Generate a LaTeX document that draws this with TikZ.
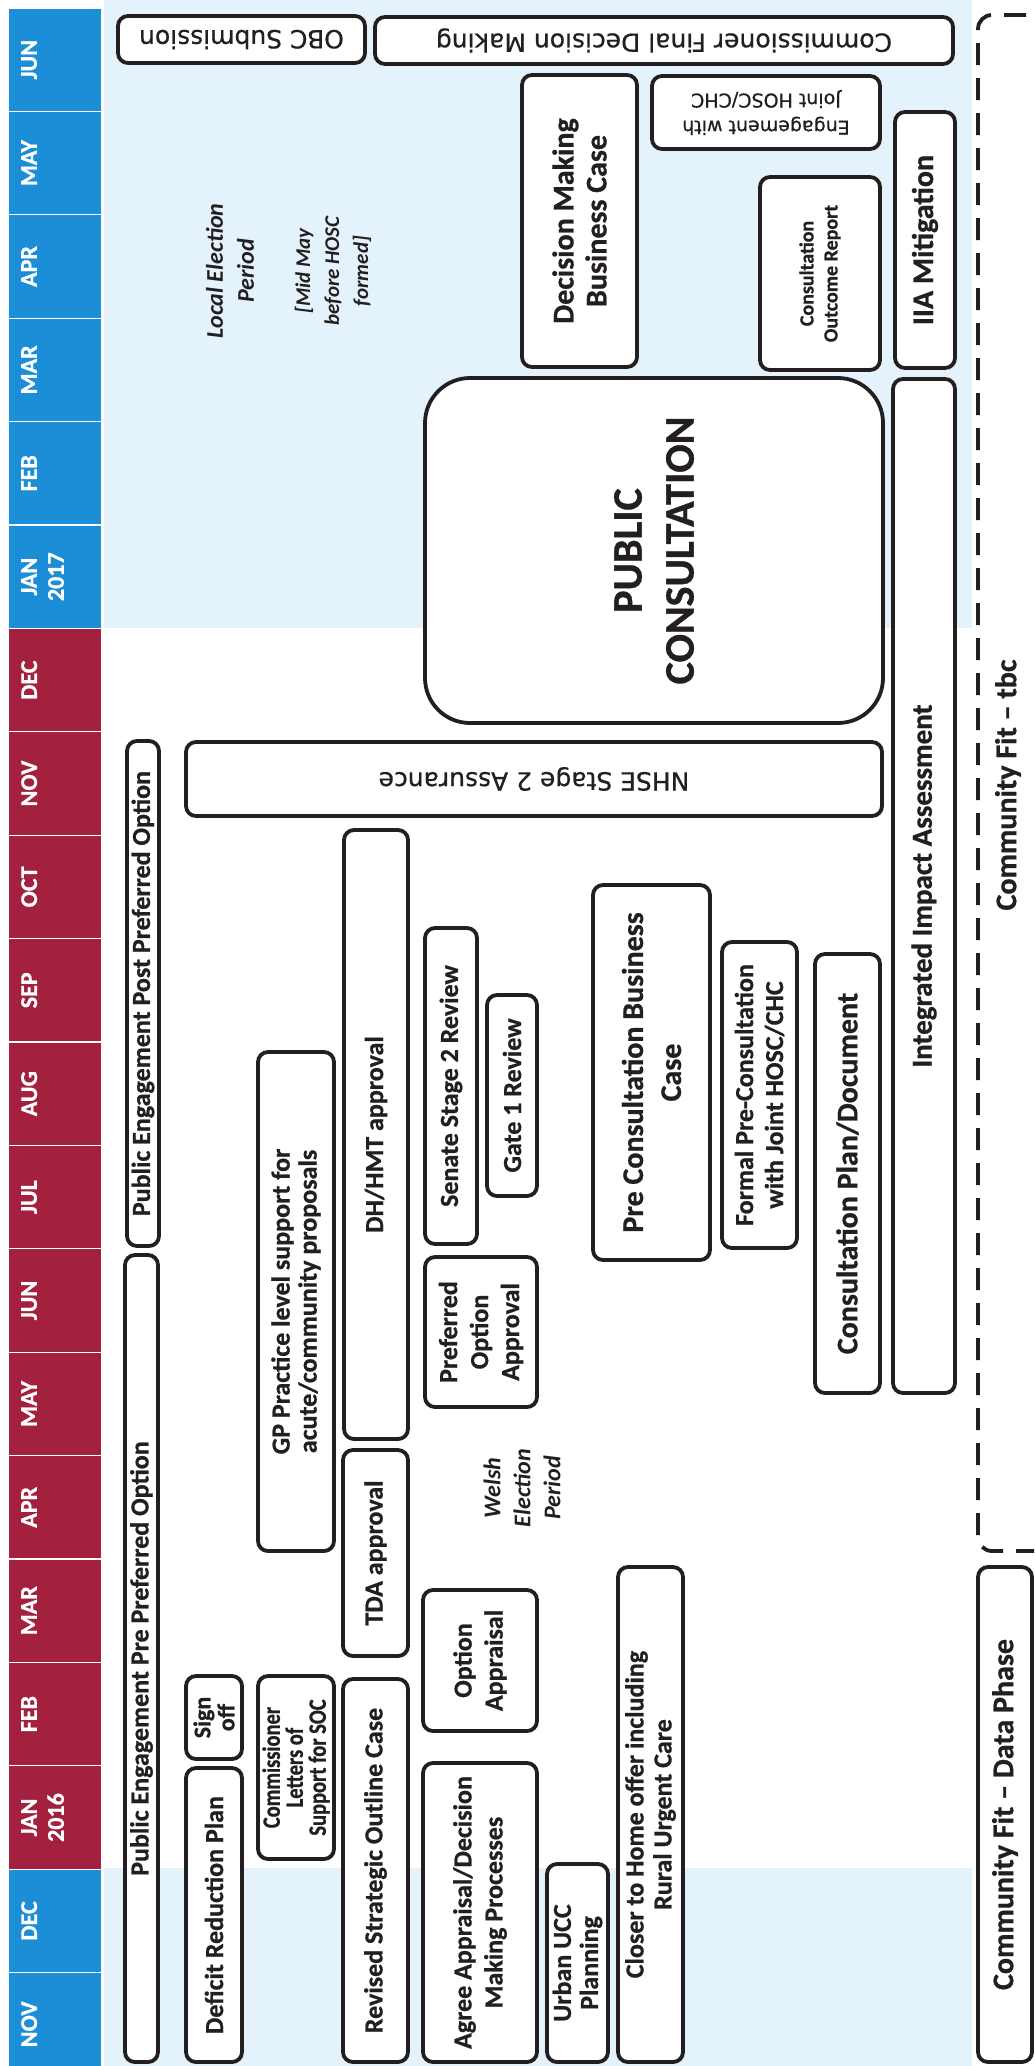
\documentclass[tikz,border=0pt]{standalone}
\usepackage{fontspec}
\setmainfont{Carlito}[BoldFeatures={FakeBold=0.8}]
\newfontfamily\dejavu{DejaVu Sans}[FakeBold=0.6]
\newfontfamily\cond{Carlito}[FakeStretch=0.82, BoldFeatures={FakeBold=0.8}]
\usetikzlibrary{fit}
\definecolor{ink}{HTML}{231F20}
\definecolor{hblue}{HTML}{1C8ED8}
\definecolor{hred}{HTML}{A3213F}
\definecolor{pale}{HTML}{E4F3FB}
\newcommand\fs[2]{\fontsize{#1}{#2}\selectfont}
\begin{document}
\begin{tikzpicture}[x=1pt,y=-1pt,
  box/.style={draw=ink, line width=3.8pt, fill=white, rounded corners=10pt, inner sep=0pt, outer sep=0pt},
  bigbox/.style={box, rounded corners=45pt},
  dashbox/.style={draw=ink, line width=3.8pt, dash pattern=on 22pt off 13pt, rounded corners=14pt, inner sep=0pt},
  cell/.style={draw=white, line width=1.2pt, inner sep=0pt, outer sep=0pt},
  month/.style={rotate=90, align=center, inner sep=0pt, anchor=north, text=white, font=\bfseries\fs{24}{27}},
  vt/.style={rotate=90, align=center, inner sep=0pt, text=ink, font=\bfseries\fs{26}{30}},
  ut/.style={rotate=180, align=center, inner sep=0pt, text=ink, font=\dejavu\fs{25}{28}},
  it/.style={rotate=90, align=center, inner sep=0pt, text=ink, font=\bfseries\itshape\fs{24}{31}}]
\useasboundingbox (0,0) rectangle (1034,2066);
\clip (0,0) rectangle (1034,2066);
\fill[white] (0,0) rectangle (1034,2066);
% pale background bands
\fill[pale] (104,0) rectangle (972,628);
\fill[pale] (104,1868) rectangle (972,2066);
% month header
\foreach \k/\lab/\col in {0/JUN/hblue,1/MAY/hblue,2/APR/hblue,3/MAR/hblue,4/FEB/hblue,5/{JAN\\2017}/hblue,6/DEC/hred,7/NOV/hred,8/OCT/hred,9/SEP/hred,10/AUG/hred,11/JUL/hred,12/JUN/hred,13/MAY/hred,14/APR/hred,15/MAR/hred,16/FEB/hred,17/{JAN\\2016}/hred,18/DEC/hblue,19/NOV/hblue}{
  \pgfmathsetmacro\ya{8+103.4*\k}
  \pgfmathsetmacro\yb{\ya+103.4}
  \pgfmathsetmacro\yc{\ya+51.7}
  \node[cell, fill=\col, fit={(8,\ya) (102,\yb)}] (m\k) {};
  \node[month] (ml\k) at (21,\yc) {\lab};
}
% dashed community fit region
\node[dashbox, fit={(978,15) (1075,1551)}] (cf) {};
\node[vt, font=\bfseries\fs{30}{34}] (cf-t) at (1008,785) {Community Fit -- tbc};
% top row (upside down)
\node[box, fit={(118,16) (365,63)}] (obc) {};
\node[ut] (obc-t) at (obc.center) {OBC Submission};
\node[box, fit={(375,17) (953,64)}] (cfdm) {};
\node[ut] (cfdm-t) at (cfdm.center) {Commissioner Final Decision Making};
\node[box, fit={(652,76) (880,149)}] (eng) {};
\node[ut, font=\dejavu\fs{19}{27}] (eng-t) at (eng.center) {Engagement with\\Joint HOSC/CHC};
\node[box, fit={(186,742) (882,816)}] (nhse) {};
\node[ut] (nhse-t) at (nhse.center) {NHSE Stage 2 Assurance};
% 2017 boxes
\node[box, fit={(522,75) (637,367)}] (dmbc) {};
\node[vt, font=\bfseries\fs{30}{33}] (dmbc-t) at (dmbc.center) {Decision Making\\Business Case};
\node[box, fit={(760,177) (880,370)}] (cor) {};
\node[vt, font=\bfseries\fs{20}{24}] (cor-t) at (cor.center) {Consultation\\Outcome Report};
\node[box, fit={(895,112) (955,368)}] (iiam) {};
\node[vt, font=\bfseries\fs{30}{34}] (iiam-t) at (iiam.center) {IIA Mitigation};
\node[bigbox, fit={(425,378) (883,723)}] (pc) {};
\node[vt, font=\bfseries\fs{42}{52}] (pc-t) at (pc.center) {PUBLIC\\CONSULTATION};
\node[box, fit={(893,379) (955,1393)}] (iia) {};
\node[vt, font=\bfseries\fs{29}{34}] (iia-t) at (iia.center) {Integrated Impact Assessment};
\node[it] (local) at (230,271) {Local Election\\Period};
\node[it, font=\bfseries\itshape\fs{21}{29}] (midmay) at (333,271) {[Mid May\\before HOSC\\formed]};
% 2016 boxes
\node[box, fit={(127,741) (159,1246)}] (pepost) {};
\node[vt] (pepost-t) at (pepost.center) {Public Engagement Post Preferred Option};
\node[box, fit={(125,1255) (158,2062)}] (pepre) {};
\node[vt] (pepre-t) at (pepre.center) {Public Engagement Pre Preferred Option};
\node[box, fit={(186,1768) (242,2062)}] (drp) {};
\node[vt] (drp-t) at (drp.center) {Deficit Reduction Plan};
\node[box, fit={(186,1676) (242,1759)}] (sign) {};
\node[vt, font=\bfseries\fs{24}{24}] (sign-t) at (sign.center) {Sign\\off};
\node[box, fit={(258,1052) (334,1551)}] (gp) {};
\node[vt, font=\bfseries\fs{26}{27}] (gp-t) at (gp.center) {GP Practice level support for\\acute/community proposals};
\node[box, fit={(258,1676) (334,1859)}] (cls) {};
\node[vt, font=\cond\bfseries\fs{25}{23}] (cls-t) at (cls.center) {Commissioner\\Letters of\\Support for SOC};
\node[box, fit={(344,830) (408,1439)}] (dh) {};
\node[vt] (dh-t) at (dh.center) {DH/HMT approval};
\node[box, fit={(343,1450) (408,1656)}] (tda) {};
\node[vt] (tda-t) at (tda.center) {TDA approval};
\node[box, fit={(343,1679) (408,2062)}] (rsoc) {};
\node[vt] (rsoc-t) at (rsoc.center) {Revised Strategic Outline Case};
\node[box, fit={(425,928) (477,1244)}] (sen) {};
\node[vt] (sen-t) at (sen.center) {Senate Stage 2 Review};
\node[box, fit={(487,995) (537,1196)}] (gate) {};
\node[vt] (gate-t) at (gate.center) {Gate 1 Review};
\node[box, fit={(425,1257) (537,1407)}] (poa) {};
\node[vt, font=\bfseries\fs{26}{31}] (poa-t) at (poa.center) {Preferred\\Option\\Approval};
\node[box, fit={(423,1590) (537,1731)}] (oa) {};
\node[vt, font=\bfseries\fs{26}{31}] (oa-t) at (oa.center) {Option\\Appraisal};
\node[box, fit={(423,1763) (537,2062)}] (aa) {};
\node[vt, font=\bfseries\fs{26}{31}] (aa-t) at (aa.center) {Agree Appraisal/Decision\\Making Processes};
\node[it, font=\bfseries\itshape\fs{24}{30}] (welsh) at (522,1488) {Welsh\\Election\\Period};
\node[box, fit={(547,1864) (608,2062)}] (ucc) {};
\node[vt, font=\bfseries\fs{26}{27}] (ucc-t) at (ucc.center) {Urban UCC\\Planning};
\node[box, fit={(618,1567) (683,2062)}] (cth) {};
\node[vt, font=\bfseries\fs{26}{28}] (cth-t) at (cth.center) {Closer to Home offer including\\Rural Urgent Care};
\node[box, fit={(593,885) (710,1260)}] (pcbc) {};
\node[vt, font=\bfseries\fs{30}{38}] (pcbc-t) at (pcbc.center) {Pre Consultation Business\\Case};
\node[box, fit={(722,942) (797,1248)}] (fpc) {};
\node[vt, font=\bfseries\fs{26}{30}] (fpc-t) at (fpc.center) {Formal Pre-Consultation\\with Joint HOSC/CHC};
\node[box, fit={(815,954) (880,1393)}] (cpd) {};
\node[vt, font=\bfseries\fs{30}{34}] (cpd-t) at (cpd.center) {Consultation Plan/Document};
\node[box, fit={(978,1567) (1032,2062)}] (cfd) {};
\node[vt, font=\bfseries\fs{30}{34}] (cfd-t) at (cfd.center) {Community Fit -- Data Phase};
\end{tikzpicture}
\end{document}
